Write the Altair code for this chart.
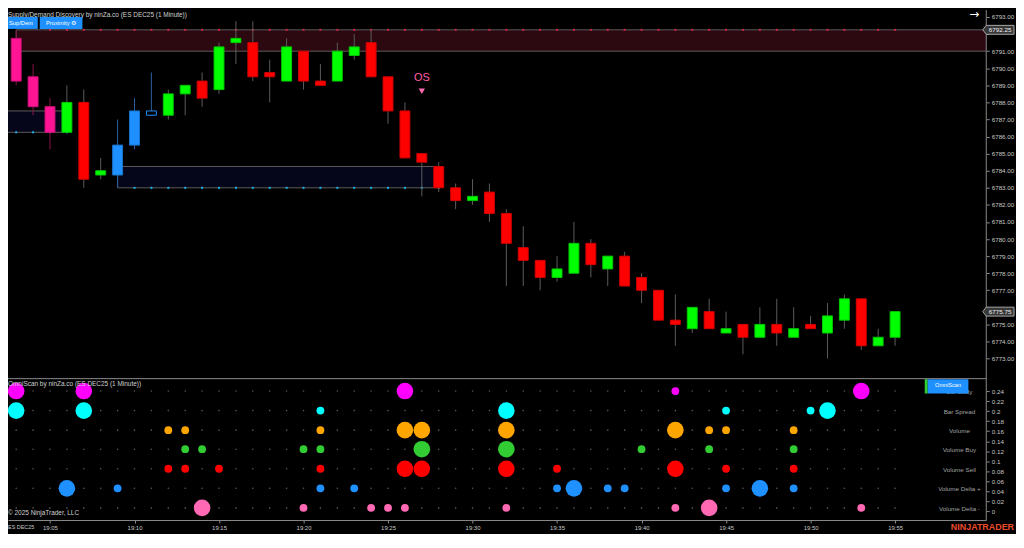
import altair as alt
import pandas as pd

# ---------------- data ----------------
minutes = list(range(3, 56))  # 19:03 ... 19:55

opens = [6791.75, 6789.5, 6787.75, 6786.25, 6788.0, 6783.75, 6783.75, 6785.5, 6787.25, 6787.25,
         6788.5, 6789.25, 6788.75, 6791.5, 6791.5, 6789.75, 6789.25, 6791.0, 6789.25, 6789.25,
         6790.75, 6791.5, 6789.5, 6787.5, 6785.0, 6784.25, 6783.0, 6782.25, 6782.75, 6781.5,
         6779.5, 6778.75, 6777.75, 6778.0, 6779.75, 6778.25, 6779.0, 6777.75, 6777.0, 6775.25,
         6774.75, 6775.75, 6774.5, 6775.0, 6774.25, 6775.0, 6774.25, 6775.0, 6774.5, 6775.25,
         6776.5, 6773.75, 6774.25]
highs = [6792.25, 6790.25, 6788.25, 6789.0, 6788.75, 6784.75, 6787.0, 6788.25, 6789.75, 6788.75,
         6789.0, 6789.75, 6791.5, 6792.75, 6792.75, 6790.5, 6791.75, 6791.0, 6790.25, 6791.5,
         6792.0, 6792.25, 6789.5, 6788.0, 6785.0, 6784.5, 6783.25, 6783.5, 6783.25, 6781.75,
         6780.75, 6778.75, 6779.0, 6781.0, 6780.0, 6779.0, 6779.25, 6778.0, 6777.0, 6776.75,
         6776.0, 6776.5, 6775.75, 6775.0, 6776.0, 6776.5, 6776.0, 6775.5, 6776.25, 6776.75,
         6776.5, 6774.75, 6775.75]
lows = [6789.0, 6787.25, 6785.25, 6786.25, 6783.0, 6783.5, 6783.0, 6785.25, 6787.25, 6787.0,
        6787.25, 6787.75, 6788.5, 6790.25, 6789.25, 6788.0, 6789.25, 6788.75, 6789.0, 6789.25,
        6790.5, 6789.5, 6786.75, 6784.75, 6782.5, 6782.75, 6781.75, 6782.0, 6781.0, 6777.25,
        6777.25, 6777.0, 6777.5, 6778.0, 6777.75, 6777.25, 6777.25, 6776.25, 6775.25, 6773.75,
        6774.5, 6774.75, 6774.5, 6773.25, 6774.25, 6773.75, 6774.25, 6774.75, 6773.0, 6774.75,
        6773.5, 6773.75, 6773.75]
closes = [6789.25, 6787.75, 6786.25, 6788.0, 6783.5, 6784.0, 6785.5, 6787.5, 6787.5, 6788.5,
          6789.0, 6788.25, 6791.25, 6791.75, 6789.5, 6789.5, 6791.25, 6789.25, 6789.0, 6791.0,
          6791.25, 6789.5, 6787.5, 6784.75, 6784.5, 6783.0, 6782.25, 6782.5, 6781.5, 6779.75,
          6778.75, 6777.75, 6778.25, 6779.75, 6778.5, 6779.0, 6777.25, 6777.0, 6775.25, 6775.0,
          6776.0, 6774.75, 6774.75, 6774.25, 6775.0, 6774.5, 6774.75, 6774.75, 6775.5, 6776.5,
          6773.75, 6774.25, 6775.75]
kinds = ["pink", "pink", "pink", "up", "down", "up", "blue", "blue", "hollow", "up",
         "up", "down", "up", "up", "down", "down", "up", "down", "down", "up",
         "up", "down", "down", "down", "down", "down", "down", "up", "down", "down",
         "down", "down", "up", "up", "down", "up", "down", "down", "down", "down",
         "up", "down", "up", "down", "up", "down", "up", "down", "up", "up",
         "down", "up", "up"]

# supply / demand zones
zone_start = [3, 2, 9]
zone_end = [61, 6, 28]
zone_low = [6791.0, 6786.25, 6783.0]
zone_high = [6792.25, 6787.5, 6784.25]
zone_type = ["supply", "demand", "demand"]

supply_dot_minutes = list(range(5, 56))
supply_dot_price = 6792.25
demand_dot_minutes_a = [3, 4, 5, 6]
demand_dot_price_a = 6786.25
demand_dot_minutes_b = list(range(10, 29))
demand_dot_price_b = 6783.0

# OS signal
signal_minute = [27]
signal_label = ["OS"]
signal_text_price = [6789.4]
signal_mark_price = [6788.65]

# price markers on the axis
marker_prices = [6792.25, 6775.75]

# OmniScan rows
row_names = ["Bar Body", "Bar Spread", "Volume", "Volume Buy", "Volume Sell",
             "Volume Delta +", "Volume Delta -"]
row_levels = [0.240, 0.201, 0.162, 0.124, 0.085, 0.046, 0.007]
row_colors = ["#ff00ff", "#00ffff", "#ffa500", "#32cd32", "#ff0000", "#1e90ff", "#ff69b4"]

bubble_minutes = {
    "Bar Body":       [3, 7, 26, 42, 53],
    "Bar Spread":     [3, 7, 21, 32, 45, 50, 51],
    "Volume":         [12, 13, 21, 26, 27, 32, 42, 44, 45, 49],
    "Volume Buy":     [13, 14, 20, 21, 27, 32, 40, 44, 49],
    "Volume Sell":    [12, 13, 15, 21, 26, 27, 32, 35, 42, 45, 49],
    "Volume Delta +": [6, 9, 21, 23, 35, 36, 38, 39, 45, 47, 49],
    "Volume Delta -": [14, 20, 24, 25, 26, 32, 42, 44, 53],
}
bubble_sizes = {
    "Bar Body":       ["L", "L", "L", "S", "L"],
    "Bar Spread":     ["L", "L", "S", "L", "S", "S", "L"],
    "Volume":         ["S", "S", "S", "L", "L", "L", "L", "S", "S", "S"],
    "Volume Buy":     ["S", "S", "S", "S", "L", "L", "S", "S", "S"],
    "Volume Sell":    ["S", "S", "S", "S", "L", "L", "L", "S", "L", "S", "S"],
    "Volume Delta +": ["L", "S", "S", "S", "S", "L", "S", "S", "S", "L", "S"],
    "Volume Delta -": ["L", "S", "S", "S", "S", "S", "S", "L", "S"],
}

time_ticks = [5, 10, 15, 20, 25, 30, 35, 40, 45, 50, 55]
price_ticks = list(range(6772, 6794))
lower_ticks = [0, 0.02, 0.04, 0.06, 0.08, 0.1, 0.12, 0.14, 0.16, 0.18, 0.2, 0.22, 0.24, 0.26]

# ---------------- tables ----------------
cdf = pd.DataFrame({"m": minutes, "o": opens, "h": highs, "l": lows, "c": closes, "kind": kinds})
zdf = pd.DataFrame({"s": zone_start, "e": zone_end, "lo": zone_low, "hi": zone_high, "type": zone_type})
zdots = pd.DataFrame(
    [{"m": m, "p": supply_dot_price, "type": "supply"} for m in supply_dot_minutes]
    + [{"m": m, "p": demand_dot_price_a, "type": "demand"} for m in demand_dot_minutes_a]
    + [{"m": m, "p": demand_dot_price_b, "type": "demand"} for m in demand_dot_minutes_b]
)
sdf = pd.DataFrame({"m": signal_minute, "label": signal_label,
                    "tp": signal_text_price, "mp": signal_mark_price})
mdf = pd.DataFrame({"p": marker_prices})
rdf = pd.DataFrame({"name": row_names, "level": row_levels})
gdf = pd.DataFrame([{"m": m, "level": lv} for lv in row_levels for m in minutes])
bdf = pd.DataFrame([
    {"m": m, "row": name, "level": lv, "sz": s}
    for name, lv in zip(row_names, row_levels)
    for m, s in zip(bubble_minutes[name], bubble_sizes[name])
])

# ---------------- scales / axes ----------------
W, H = 986, 514
FONT = "Liberation Sans"
xscale = alt.Scale(domain=[2.809, 60.10], nice=False, zero=False)
pscale = alt.Scale(domain=[6773, 6793], range=[351.3, 7], nice=False, zero=False)
lscale = alt.Scale(domain=[0, 0.24], range=[505.3, 384], nice=False, zero=False)

xaxis = alt.Axis(orient="bottom", values=time_ticks, title=None, grid=False,
                 labelExpr="'19:' + (datum.value < 10 ? '0' : '') + datum.value",
                 tickSize=3, labelPadding=2, domainColor="#8c8c8c", tickColor="#8c8c8c",
                 labelColor="#c8c8c8", labelFontSize=6, labelFont=FONT, labelFlush=False)
paxis = alt.Axis(orient="right", values=price_ticks, title=None, grid=False, domain=False,
                 labelExpr="(datum.value < 6772.5 || datum.value == 6776 || datum.value == 6792)"
                           " ? '' : format(datum.value, '.2f')",
                 tickSize=3, labelPadding=2, tickColor="#8c8c8c", labelColor="#c8c8c8",
                 labelFontSize=6.3, labelFont=FONT, labelOverlap=False)
laxis = alt.Axis(orient="right", values=lower_ticks, title=None, grid=False, domain=False,
                 labelExpr="datum.value > 0.25 ? '' : format(datum.value, '.2~f')",
                 tickSize=3, labelPadding=2, tickColor="#8c8c8c", labelColor="#c8c8c8",
                 labelFontSize=6.3, labelFont=FONT, labelOverlap=False)

KINDS = ["up", "down", "pink", "blue", "hollow"]
BODY_FILL = ["#00ff00", "#ff0000", "#ff1493", "#1e90ff", "#000000"]
BODY_STROKE = ["#00c800", "#d00000", "#d0107a", "#1874cd", "#1e90ff"]
WICK = ["#5c5c5c", "#5c5c5c", "#8a1548", "#2a5f9e", "#2a5f9e"]


def X(f="m"):
    return alt.X(f"{f}:Q", scale=xscale, axis=xaxis)


# ---------------- price panel ----------------
zones = alt.Chart(zdf).mark_rect(strokeWidth=1, stroke="#5c5c5c", clip=True).encode(
    x=X("s"), x2="e:Q",
    y=alt.Y("lo:Q", scale=pscale, axis=None), y2="hi:Q",
    fill=alt.Fill("type:N", scale=alt.Scale(domain=["supply", "demand"],
                                            range=["#2c0811", "#06061b"]), legend=None),
)
zone_dots = alt.Chart(zdots).mark_square(size=4, opacity=1).encode(
    x=X(), y=alt.Y("p:Q", scale=pscale, axis=None),
    color=alt.Color("type:N", scale=alt.Scale(domain=["supply", "demand"],
                                              range=["#d0244a", "#1ab2ee"]), legend=None),
)
wicks = alt.Chart(cdf).mark_rule(strokeWidth=1).encode(
    x=X(),
    y=alt.Y("l:Q", scale=pscale, axis=paxis), y2="h:Q",
    color=alt.Color("kind:N", scale=alt.Scale(domain=KINDS, range=WICK), legend=None),
)
bodies = alt.Chart(cdf).mark_bar(size=10, strokeWidth=1, opacity=1).encode(
    x=X(), y=alt.Y("o:Q", scale=pscale, axis=None), y2="c:Q",
    fill=alt.Fill("kind:N", scale=alt.Scale(domain=KINDS, range=BODY_FILL), legend=None),
    stroke=alt.Stroke("kind:N", scale=alt.Scale(domain=KINDS, range=BODY_STROKE), legend=None),
)
os_text = alt.Chart(sdf).mark_text(fontSize=11, font=FONT, color="#ff5fa8").encode(
    x=X(), y=alt.Y("tp:Q", scale=pscale, axis=None), text="label:N")
os_mark = alt.Chart(sdf).mark_point(shape="triangle-down", filled=True, size=40,
                                    color="#ff69b4", opacity=1).encode(
    x=X(), y=alt.Y("mp:Q", scale=pscale, axis=None))

TAG = "M-1.75,0 L-1.4,-0.45 L1.4,-0.45 L1.4,0.45 L-1.4,0.45 Z"
tags = alt.Chart(mdf).mark_point(shape=TAG, size=400, filled=True, fill="#383838",
                                 stroke="#a8a8a8", strokeWidth=1, opacity=1).encode(
    x=alt.value(1000), y=alt.Y("p:Q", scale=pscale, axis=None))
tag_text = alt.Chart(mdf).mark_text(fontSize=6.3, font=FONT, color="#f0f0f0").encode(
    x=alt.value(1000), y=alt.Y("p:Q", scale=pscale, axis=None),
    text=alt.Text("p:Q", format=".2f"))

# ---------------- OmniScan panel ----------------
grid_dots = alt.Chart(gdf).mark_circle(size=2.5, color="#5a5a5a", opacity=1).encode(
    x=X(), y=alt.Y("level:Q", scale=lscale, axis=laxis))
bubbles = alt.Chart(bdf).mark_circle(opacity=1).encode(
    x=X(), y=alt.Y("level:Q", scale=lscale, axis=None),
    color=alt.Color("row:N", scale=alt.Scale(domain=row_names, range=row_colors), legend=None),
    size=alt.Size("sz:N", scale=alt.Scale(domain=["S", "L"], range=[62, 280]), legend=None),
)
row_text = alt.Chart(rdf).mark_text(fontSize=6.3, font=FONT, color="#a0a0a0",
                                    baseline="middle", dy=1).encode(
    x=alt.value(959), y=alt.Y("level:Q", scale=lscale, axis=None), text="name:N")

# ---------------- decorations ----------------
one = pd.DataFrame({"k": [0]})


def label(txt, x, y, size=6.5, color="#d0d0d0", align="left", weight="normal", font=FONT):
    return alt.Chart(one).mark_text(text=txt, align=align, baseline="middle", fontSize=size,
                                    color=color, font=font, fontWeight=weight).encode(
        x=alt.value(x), y=alt.value(y))


def box(x1, x2, y1, y2, color):
    return alt.Chart(one).mark_rect(color=color).encode(
        x=alt.value(x1), x2=alt.value(x2), y=alt.value(y1), y2=alt.value(y2))


def hline(x1, x2, y, color="#8c8c8c"):
    return alt.Chart(one).mark_rule(color=color, strokeWidth=1).encode(
        x=alt.value(x1), x2=alt.value(x2), y=alt.value(y))


def vline(x, y1, y2, color="#8c8c8c"):
    return alt.Chart(one).mark_rule(color=color, strokeWidth=1).encode(
        x=alt.value(x), y=alt.value(y1), y2=alt.value(y2))


decor = [
    label("Supply/Demand Discovery by ninZa.co (ES DEC25 (1 Minute))", 0, 4.5),
    box(0, 30, 7, 19, "#1e90ff"),
    box(32, 75, 7, 19, "#1e90ff"),
    label("Sup/Dem", 13, 13, size=5.8, color="#ffffff", align="center"),
    label("Proximity \u2699", 53.5, 13, size=5.8, color="#ffffff", align="center"),
    label("\u2192", 974, 4, size=12, color="#ffffff", align="center", font="DejaVu Sans"),
    hline(0, W, 371.5),
    vline(986, 0, H),
    label("OmniScan by ninZa.co (ES DEC25 (1 Minute))", 0, 377),
    box(924, 927, 372, 386.5, "#32cd32"),
    box(927, 968, 372, 386.5, "#1e90ff"),
    label("OmniScan", 947.5, 377.5, size=5.6, color="#ffffff", align="center"),
    label("\u00a9 2025 NinjaTrader, LLC", 0, 507),
    label("ES DEC25", 0, 521, size=5.5, color="#c8c8c8"),
    label("NINJATRADER", 1014, 521, size=9, color="#ee4b2b", align="right", weight="bold"),
]

chart = alt.layer(
    zones, zone_dots, wicks, bodies, os_text, os_mark,
    grid_dots, bubbles, row_text,
    *decor,
    tags, tag_text,
).resolve_scale(
    y="independent", color="independent", fill="independent",
    stroke="independent", size="independent",
).properties(
    width=W, height=H,
    autosize=alt.AutoSizeParams(type="none"),
    padding={"left": 0, "top": 0, "right": 30, "bottom": 12},
    background="#000000",
).configure_view(stroke=None, fill="#000000")

chart.save("out.html", embed_options={"renderer": "svg", "actions": False})
